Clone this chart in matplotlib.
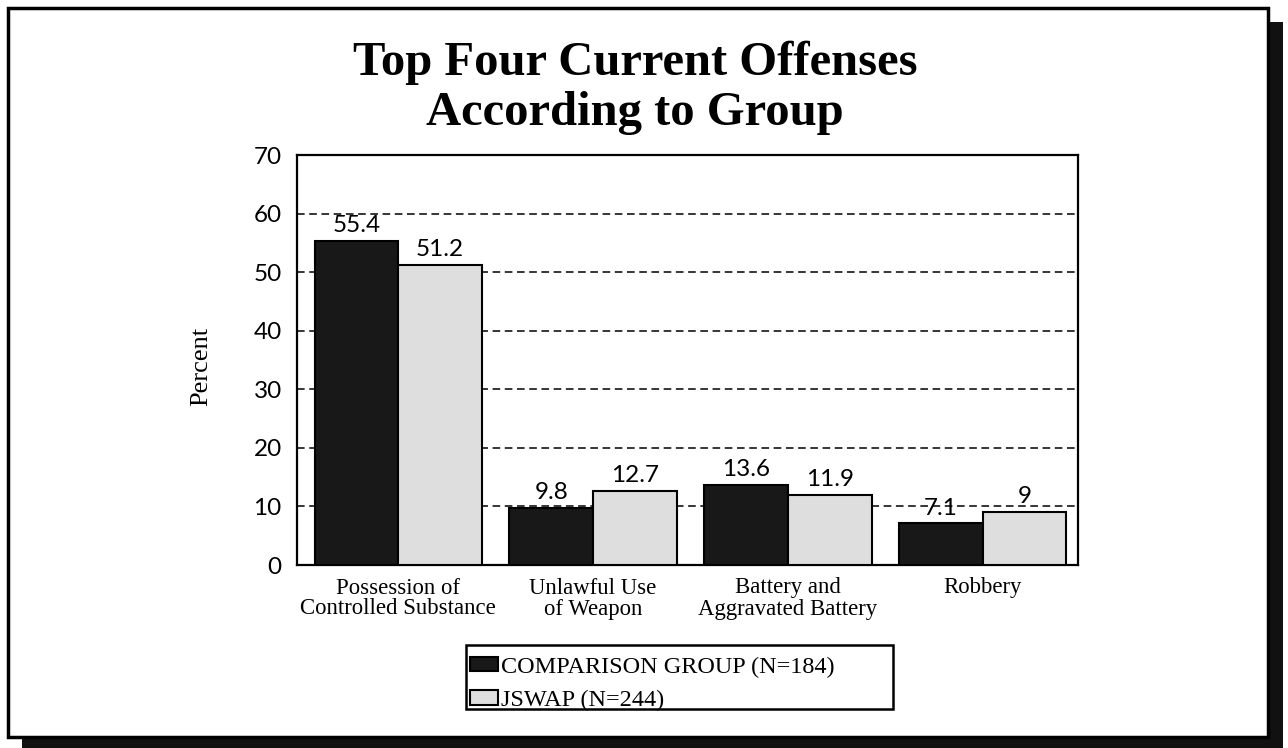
import matplotlib
matplotlib.use("Agg")
import matplotlib.pyplot as plt
from matplotlib.patches import Rectangle
import numpy as np

categories = ["Possession of\nControlled Substance", "Unlawful Use\nof Weapon",
              "Battery and\nAggravated Battery", "Robbery"]
comparison = [55.4, 9.8, 13.6, 7.1]
jswap = [51.2, 12.7, 11.9, 9]
value_labels_comp = ["55.4", "9.8", "13.6", "7.1"]
value_labels_jswap = ["51.2", "12.7", "11.9", "9"]
series_names = ["COMPARISON GROUP (N=184)", "JSWAP (N=244)"]
yticks = [0, 10, 20, 30, 40, 50, 60, 70]

W, H = 1288, 748
fig = plt.figure(figsize=(W / 100, H / 100), dpi=100)
fig.patch.set_facecolor("white")

# outer frame with shadow
fig.patches.append(Rectangle((22 / W, 1 - 748 / H), (1283 - 22) / W, (748 - 22) / H,
                             transform=fig.transFigure, facecolor="#111111",
                             edgecolor="none", zorder=-3))
fig.patches.append(Rectangle((8 / W, 1 - 737 / H), (1268 - 8) / W, (737 - 8) / H,
                             transform=fig.transFigure, facecolor="white",
                             edgecolor="black", linewidth=2.5, zorder=-2))

ax = fig.add_axes([297 / W, 1 - 565 / H, (1078 - 297) / W, (565 - 155) / H])
ax.set_facecolor("none")
x = np.arange(len(categories))
bw = 0.43
serif = "Liberation Serif"
sans = "Lato"

ax.bar(x - bw / 2, comparison, bw, color="#181818", edgecolor="black",
       linewidth=1.5, zorder=3, label=series_names[0])
ax.bar(x + bw / 2, jswap, bw, color="#dedede", edgecolor="black",
       linewidth=1.5, zorder=3, label=series_names[1])

for xi, v, t in zip(x - bw / 2, comparison, value_labels_comp):
    ax.annotate(t, (xi, v), xytext=(0, 3.5), textcoords="offset points",
                ha="center", va="bottom", fontsize=17.5, family=sans, zorder=4)
for xi, v, t in zip(x + bw / 2, jswap, value_labels_jswap):
    ax.annotate(t, (xi, v), xytext=(0, 3.5), textcoords="offset points",
                ha="center", va="bottom", fontsize=17.5, family=sans, zorder=4)

ax.set_xlim(-0.52, 3.49)
ax.set_ylim(0, 70)
ax.set_yticks(yticks)
ax.set_yticklabels([str(v) for v in yticks], family=sans, fontsize=17.5)
ax.set_xticks(x)
ax.set_xticklabels(categories, family=serif, fontsize=16.4, linespacing=1.0)
ax.tick_params(axis="x", length=0, pad=9)
ax.tick_params(axis="y", length=0, pad=11)
ax.yaxis.grid(True, linestyle=(0, (5, 3)), color="black", linewidth=1.1, zorder=1)
ax.set_axisbelow(True)
for s in ax.spines.values():
    s.set_linewidth(1.6)
    s.set_color("black")

fig.text(201 / W, 1 - 366 / H, "Percent", rotation=90, ha="center", va="center",
         family=serif, fontsize=19)

fig.text(635 / W, 1 - 63 / H, "Top Four Current Offenses",
         ha="center", va="center", family=serif, fontweight="bold", fontsize=35)
fig.text(635 / W, 1 - 113 / H, "According to Group",
         ha="center", va="center", family=serif, fontweight="bold", fontsize=35)

# legend box
fig.patches.append(Rectangle((466 / W, 1 - 709 / H), (893 - 466) / W, (709 - 645) / H,
                             transform=fig.transFigure, facecolor="white",
                             edgecolor="black", linewidth=1.8, zorder=-1))
leg = fig.legend(loc="upper left", bbox_to_anchor=(468 / W, 1 - 654 / H),
                 prop={"family": serif, "size": 17.5}, frameon=False,
                 handlelength=1.15, handleheight=0.55, handletextpad=0.1,
                 borderpad=0.1, labelspacing=0.5, borderaxespad=0)

fig.savefig("out.png", dpi=100)
